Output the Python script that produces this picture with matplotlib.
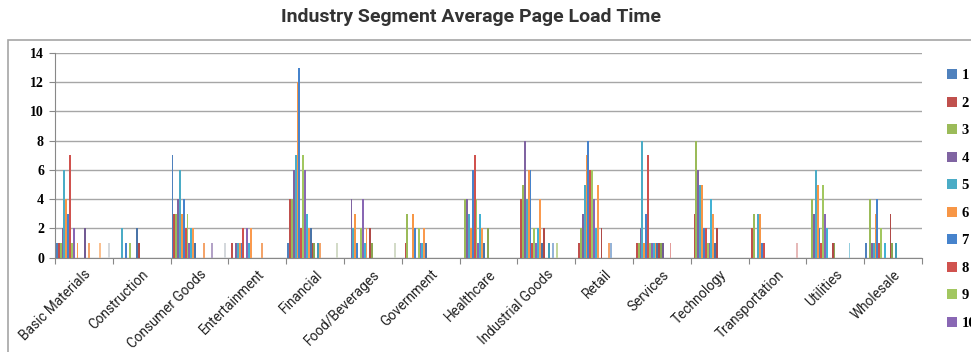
import matplotlib
matplotlib.use("Agg")
import matplotlib.pyplot as plt
from matplotlib.patches import Rectangle
import numpy as np

# industry segments (x categories)
segments = ["Basic Materials", "Construction", "Consumer Goods", "Entertainment",
            "Financial", "Food/Beverages", "Government", "Healthcare",
            "Industrial Goods", "Retail", "Services", "Technology",
            "Transportation", "Utilities", "Wholesale"]

# count per series (series 1..30) for each segment
basic_materials = [1, 1, 1, 2, 6, 4, 3, 7, 1, 2, 0, 1, 0, 0, 0, 2, 0, 1, 0, 0, 0, 0, 0, 1, 0, 0, 0, 0, 1, 0]
construction    = [0, 0, 0, 0, 2, 0, 1, 0, 1, 0, 0, 0, 2, 1, 0, 0, 0, 0, 0, 0, 0, 0, 0, 0, 0, 0, 0, 0, 0, 0]
consumer_goods  = [7, 3, 3, 4, 6, 3, 4, 2, 3, 1, 2, 2, 1, 0, 0, 0, 0, 1, 0, 0, 0, 1, 0, 0, 0, 0, 0, 0, 1, 0]
entertainment   = [0, 1, 0, 1, 1, 1, 1, 2, 0, 2, 1, 2, 0, 0, 0, 0, 0, 1, 0, 0, 0, 0, 0, 0, 0, 0, 0, 0, 0, 0]
financial       = [1, 4, 4, 6, 7, 12, 13, 2, 7, 6, 3, 2, 2, 1, 1, 0, 1, 1, 0, 0, 0, 0, 0, 0, 0, 0, 1, 0, 0, 0]
food_beverages  = [0, 0, 0, 4, 2, 3, 1, 0, 2, 4, 1, 2, 0, 2, 1, 0, 0, 0, 0, 0, 0, 0, 0, 0, 0, 0, 1, 0, 0, 0]
government      = [0, 1, 3, 0, 0, 3, 2, 0, 2, 1, 1, 2, 1, 0, 0, 0, 0, 0, 0, 0, 0, 0, 0, 0, 0, 0, 0, 0, 0, 0]
healthcare      = [0, 0, 4, 4, 3, 2, 6, 7, 4, 1, 3, 2, 1, 0, 2, 0, 0, 0, 0, 0, 0, 0, 0, 0, 0, 0, 0, 0, 0, 0]
industrial      = [0, 4, 5, 8, 4, 6, 6, 1, 2, 1, 2, 4, 1, 2, 0, 0, 1, 0, 1, 0, 1, 0, 0, 0, 0, 0, 0, 0, 0, 0]
retail          = [0, 1, 2, 3, 5, 7, 8, 6, 6, 4, 2, 5, 0, 2, 0, 0, 0, 1, 1, 0, 0, 0, 0, 0, 0, 0, 0, 0, 0, 0]
services        = [0, 1, 1, 2, 8, 1, 3, 7, 1, 1, 1, 1, 1, 1, 1, 1, 0, 0, 0, 1, 0, 0, 0, 0, 0, 0, 0, 0, 0, 0]
technology      = [0, 3, 8, 6, 5, 5, 2, 2, 1, 1, 4, 3, 1, 2, 0, 0, 0, 0, 0, 0, 0, 0, 0, 0, 0, 0, 0, 0, 0, 0]
transportation  = [0, 2, 3, 0, 3, 3, 1, 1, 0, 0, 0, 0, 0, 0, 0, 0, 0, 0, 0, 0, 0, 0, 0, 0, 0, 1, 0, 0, 0, 0]
utilities       = [0, 0, 4, 3, 6, 5, 2, 1, 5, 3, 2, 0, 0, 1, 1, 0, 0, 0, 0, 0, 0, 0, 1, 0, 0, 0, 0, 0, 0, 0]
wholesale       = [1, 0, 4, 1, 1, 3, 4, 1, 2, 0, 1, 0, 0, 3, 1, 0, 1, 0, 0, 0, 0, 0, 0, 0, 0, 0, 0, 0, 0, 0]

series_names = [str(i) for i in range(1, 31)]

# excel-ish palette, 6 accents repeated in shades
palette = ["#4F81BD", "#C0504D", "#9BBB59", "#8064A2", "#4BACC6", "#F79646",
           "#4683CC", "#D0524E", "#A2C760", "#8967B4", "#42B2D4", "#FA9A4E",
           "#4A74A8", "#B04A47", "#8AA653", "#735B93", "#3F9DB7", "#F4A46A",
           "#95B3D7", "#E39C9A", "#C3D69B", "#B3A2C7", "#93CDDD", "#FAC090",
           "#B9CDE5", "#E6B9B8", "#D3DBC8", "#CCC1DA", "#D4D8DC", "#FCD5B5"]

table = np.array([basic_materials, construction, consumer_goods, entertainment,
                  financial, food_beverages, government, healthcare, industrial,
                  retail, services, technology, transportation, utilities, wholesale])

fig = plt.figure(figsize=(9.71, 3.52), dpi=100)
ax = fig.add_axes([55 / 971, 1 - 257.7 / 352, 867 / 971, (257.7 - 53) / 352])

step = 1.875 / 57.8
x = np.arange(len(segments))
handles = []
for j, name in enumerate(series_names):
    b = ax.bar(x + (j + 1) * step, table[:, j], width=step, color=palette[j],
               linewidth=0, label=name, zorder=3)
    handles.append(b)

ax.set_xlim(0, len(segments))
ax.set_ylim(0, 14)
ax.set_yticks(range(0, 15, 2))
ax.yaxis.grid(True, color="#A6A6A6", lw=1, zorder=0)
ax.set_xticks(np.arange(len(segments) + 1))
ax.set_xticklabels([])
ax.set_xticks(x + 0.5, minor=True)
ax.set_xticklabels(segments, minor=True, rotation=45, ha="right", va="top",
                   rotation_mode="anchor", fontsize=9.8, family="Roboto", color="#222222")
ax.tick_params(axis="x", which="minor", length=0, pad=7)
ax.tick_params(axis="x", which="major", length=4, color="#888888")
ax.tick_params(axis="y", length=4, color="#888888", pad=4)
for lbl in ax.get_yticklabels():
    lbl.set_fontfamily("Liberation Serif")
    lbl.set_fontweight("bold")
    lbl.set_fontsize(10)
for s in ["top", "right"]:
    ax.spines[s].set_visible(False)
for s in ["left", "bottom"]:
    ax.spines[s].set_color("#888888")

fig.text(471 / 971, 1 - 17 / 352, "Industry Segment Average Page Load Time",
         ha="center", va="center", fontsize=14, fontweight="bold",
         family="Roboto", color="#333333")

# chart frame (cut off right and bottom like the source)
fig.add_artist(Rectangle((8 / 971, -0.1), 1.2, 1 - 40 / 352 + 0.1,
                         transform=fig.transFigure, fill=False,
                         edgecolor="#A6A6A6", lw=1.2))

# only the first ten entries fit, the rest run off the chart like the source
leg = fig.legend(handles[:10], series_names[:10], loc="upper left",
                 bbox_to_anchor=(947 / 971, 1 - 69 / 352), frameon=False,
                 handlelength=0.7, handleheight=0.7, handletextpad=0.3,
                 labelspacing=0.98, borderaxespad=0, borderpad=0,
                 prop={"family": "Liberation Serif", "weight": "bold", "size": 10.5})

fig.savefig("out.png", dpi=100)
